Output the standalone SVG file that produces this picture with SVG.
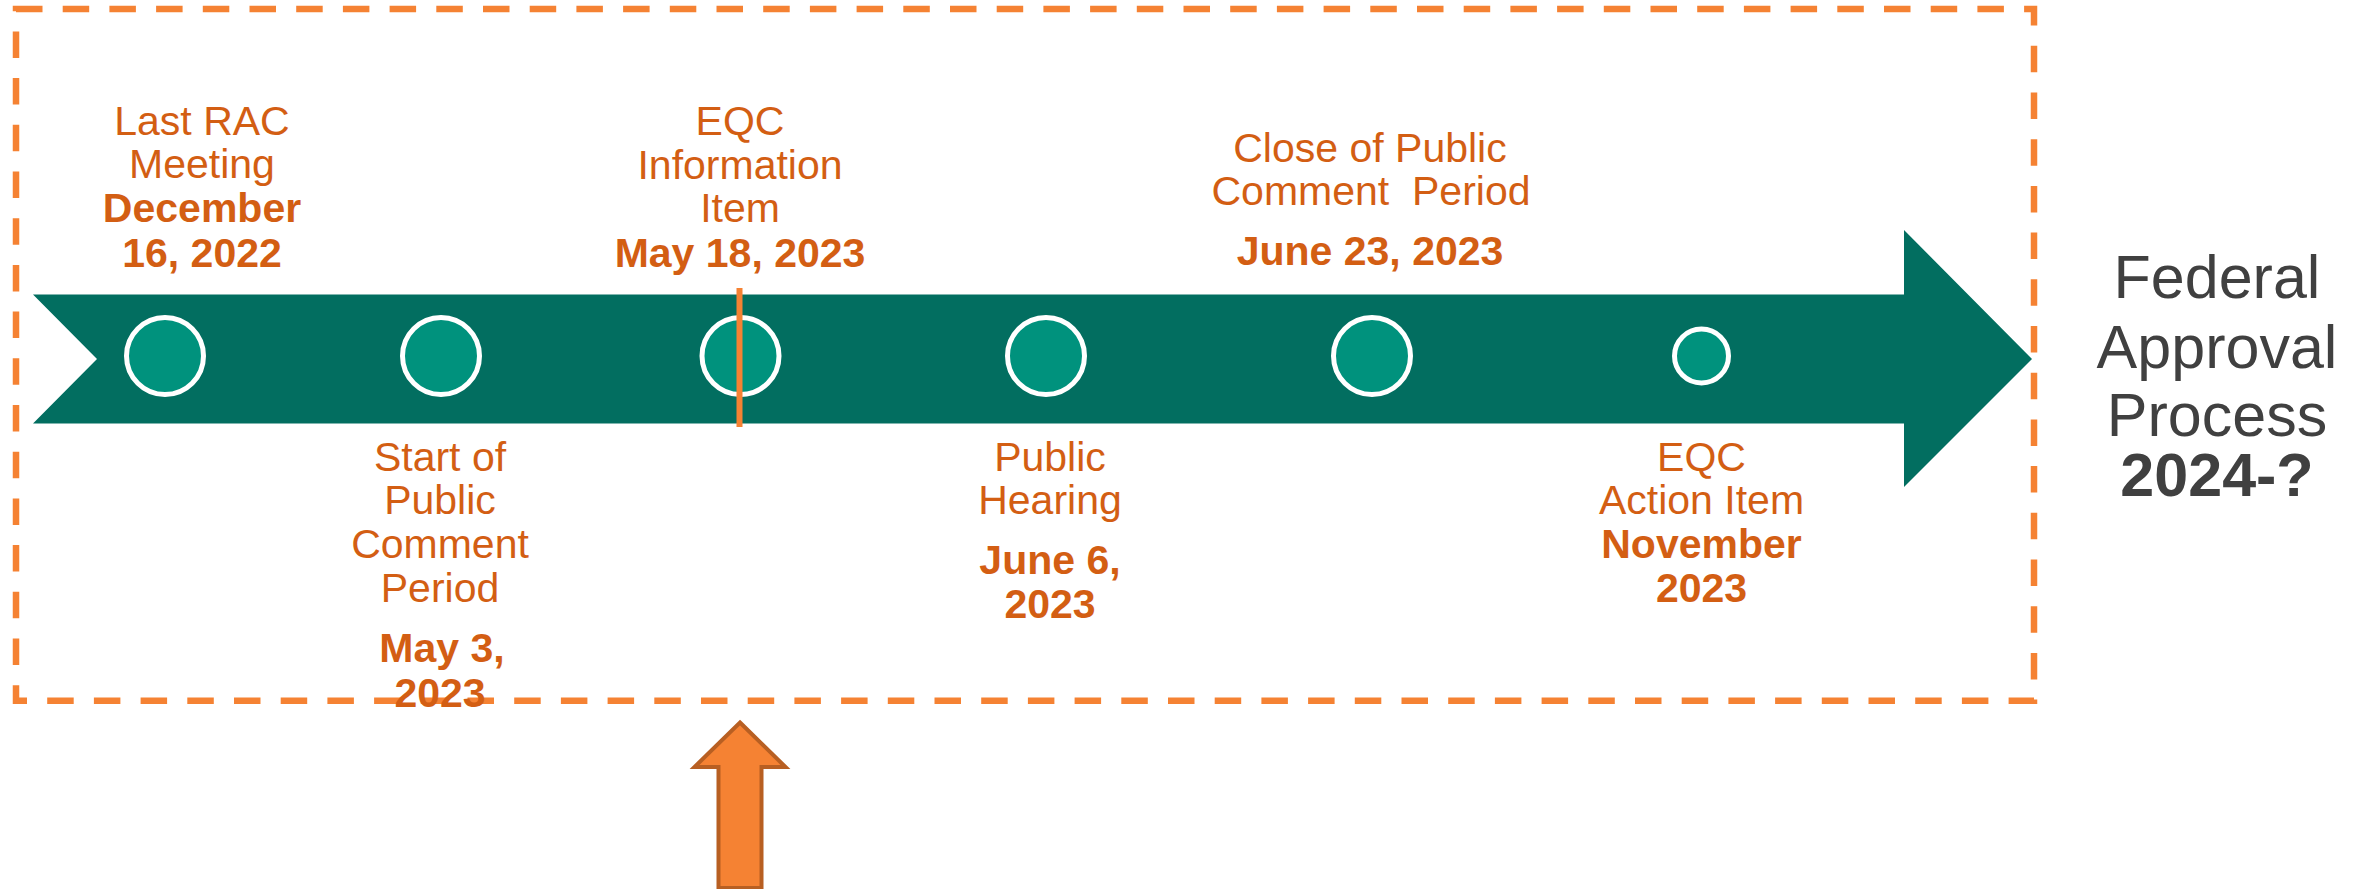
<svg xmlns="http://www.w3.org/2000/svg" width="2364" height="889" viewBox="0 0 2364 889">
<style>
.lbl{font-family:"Liberation Sans",Arial,sans-serif;font-size:41px;fill:#D35E13;text-anchor:middle}
.b{font-weight:bold}
.fed{font-family:"Liberation Sans",Arial,sans-serif;font-size:61px;fill:#404040;text-anchor:middle}
.dot{fill:#00927D;stroke:#FFFFFF;stroke-width:5}
</style>
<rect x="0" y="0" width="2364" height="889" fill="#FFFFFF"/>
<g id="frame">
<path d="M16 9 H2034 V700.7 H16 Z" fill="none" stroke="#F58233" stroke-width="6.5" stroke-dasharray="26.5 20.2"/>
</g>
<g id="timeline-arrow">
<polygon points="33,294.5 1904,294.5 1904,230 2032,359 1904,487 1904,423.5 33,423.5 97,359" fill="#026E60"/>
</g>
<g id="m1">
<circle class="dot" cx="165" cy="356" r="38.5"/>
<text class="lbl" x="202" y="135">Last RAC</text>
<text class="lbl" x="202" y="178">Meeting</text>
<text class="lbl b" x="202" y="222">December</text>
<text class="lbl b" x="202" y="266.5">16, 2022</text>
</g>
<g id="m2">
<circle class="dot" cx="441" cy="356" r="38.5"/>
<text class="lbl" x="440" y="470.5">Start of</text>
<text class="lbl" x="440" y="513.5">Public</text>
<text class="lbl" x="440" y="558">Comment</text>
<text class="lbl" x="440" y="601.5">Period</text>
<text class="lbl b" x="442" y="661.5">May 3,</text>
<text class="lbl b" x="440" y="706.5">2023</text>
</g>
<g id="m3">
<circle class="dot" cx="740.5" cy="356" r="38.5"/>
<text class="lbl" x="740" y="135">EQC</text>
<text class="lbl" x="740" y="179">Information</text>
<text class="lbl" x="740" y="222">Item</text>
<text class="lbl b" x="740" y="266.5">May 18, 2023</text>
</g>
<g id="m4">
<circle class="dot" cx="1046" cy="356" r="38.5"/>
<text class="lbl" x="1050" y="470.5">Public</text>
<text class="lbl" x="1050" y="513.5">Hearing</text>
<text class="lbl b" x="1050" y="574">June 6,</text>
<text class="lbl b" x="1050" y="618">2023</text>
</g>
<g id="m5">
<circle class="dot" cx="1372" cy="356" r="38.5"/>
<text class="lbl" x="1370" y="162">Close of Public</text>
<text class="lbl" x="1371" y="205" style="white-space:pre">Comment  Period</text>
<text class="lbl b" x="1370" y="265">June 23, 2023</text>
</g>
<g id="m6">
<circle class="dot" cx="1701.5" cy="356" r="27"/>
<text class="lbl" x="1701.5" y="470.5">EQC</text>
<text class="lbl" x="1701.5" y="514">Action Item</text>
<text class="lbl b" x="1701.5" y="558">November</text>
<text class="lbl b" x="1701.5" y="601.5">2023</text>
</g>
<g id="federal">
<text class="fed" x="2217" y="298">Federal</text>
<text class="fed" x="2217" y="368">Approval</text>
<text class="fed" x="2217" y="436">Process</text>
<text class="fed b" x="2217" y="496">2024-?</text>
</g>
<g id="connectors">
<line x1="739.5" y1="288" x2="739.5" y2="427" stroke="#F58233" stroke-width="6"/>
<polygon points="740,722.5 785.5,767 761.5,767 761.5,888 718.5,888 718.5,767 694.5,767" fill="#F58233" stroke="#B85F22" stroke-width="4" stroke-linejoin="miter"/>
</g>
</svg>
